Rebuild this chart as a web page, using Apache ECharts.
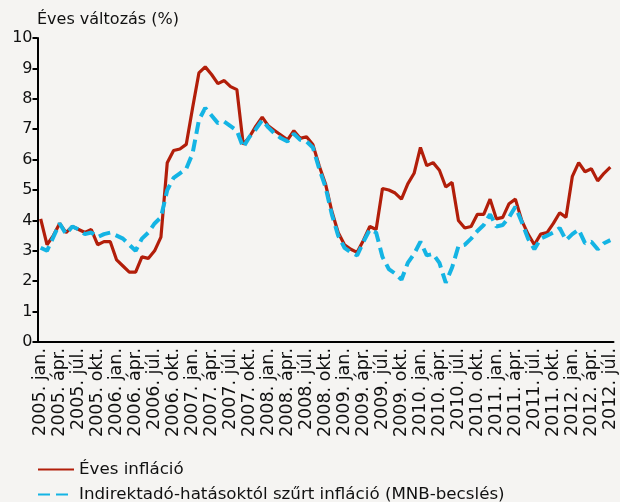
<!DOCTYPE html>
<html>
<head>
<meta charset="utf-8">
<script src="https://cdn.jsdelivr.net/npm/echarts@6.0.0/dist/echarts.min.js"></script>
<style>
html, body { margin: 0; padding: 0; background: #f5f4f2; }
#chart { width: 620px; height: 502px; }
</style>
</head>
<body>
<div id="chart"></div>
<script>
// havi adatok 2005. jan. - 2012. júl.
var years = [2005, 2006, 2007, 2008, 2009, 2010, 2011, 2012];
var monthNames = ['jan.', 'febr.', 'márc.', 'ápr.', 'máj.', 'jún.', 'júl.', 'aug.', 'szept.', 'okt.', 'nov.', 'dec.'];
var lastMonth = 7; // 2012. júl.

var evesInflacio = [
    4.05, 3.2, 3.5, 3.9, 3.6, 3.8, 3.7, 3.6, 3.7, 3.2, 3.3, 3.3,
    2.7, 2.5, 2.3, 2.3, 2.8, 2.75, 3.0, 3.45, 5.9, 6.3, 6.35, 6.5,
    7.7, 8.85, 9.05, 8.8, 8.5, 8.6, 8.4, 8.3, 6.5, 6.75, 7.1, 7.4,
    7.1, 6.95, 6.8, 6.65, 6.95, 6.7, 6.75, 6.5, 5.8, 5.2, 4.3, 3.6,
    3.2, 3.05, 2.95, 3.35, 3.8, 3.7, 5.05, 5.0, 4.9, 4.7, 5.2, 5.55,
    6.4, 5.8, 5.9, 5.65, 5.1, 5.25, 4.0, 3.75, 3.8, 4.2, 4.2, 4.7,
    4.05, 4.1, 4.55, 4.7, 4.0, 3.55, 3.2, 3.55, 3.6, 3.9, 4.25, 4.1,
    5.45, 5.9, 5.6, 5.7, 5.3, 5.55, 5.75
];

var szurtInflacio = [
    3.1, 3.0, 3.45, 3.9, 3.55, 3.8, 3.7, 3.55, 3.6, 3.45, 3.55, 3.6,
    3.5, 3.4, 3.2, 3.0, 3.4, 3.6, 3.9, 4.1, 5.0, 5.4, 5.55, 5.7,
    6.2, 7.3, 7.7, 7.45, 7.2, 7.25, 7.1, 6.95, 6.4, 6.75, 7.0, 7.3,
    7.05, 6.85, 6.7, 6.6, 6.85, 6.65, 6.6, 6.4, 5.7, 5.1, 4.2, 3.5,
    3.1, 2.95, 2.85, 3.3, 3.7, 3.6, 2.8, 2.4, 2.25, 2.05, 2.6, 2.9,
    3.3, 2.85, 2.9, 2.6, 1.95, 2.45, 3.15, 3.2, 3.4, 3.65, 3.85, 4.2,
    3.8, 3.85, 4.1, 4.45, 3.95, 3.4, 3.05, 3.4, 3.5, 3.6, 3.75, 3.35,
    3.55, 3.7, 3.25, 3.3, 3.05, 3.25, 3.35
];

var categories = [];
years.forEach(function (y) {
    monthNames.forEach(function (m, i) {
        if (y < 2012 || i < lastMonth) {
            categories.push(y + '. ' + m);
        }
    });
});

var font = 'DejaVu Sans';

var option = {
    backgroundColor: '#f5f4f2',
    animation: false,
    title: {
        text: 'Éves változás (%)',
        left: 32,
        top: 7,
        textStyle: { fontFamily: font, fontSize: 16, fontWeight: 'normal', color: '#111' }
    },
    legend: {
        orient: 'vertical',
        left: 32,
        top: 456,
        height: 60,
        itemWidth: 36,
        itemHeight: 14,
        itemGap: 8,
        itemStyle: { opacity: 0 },
        textStyle: { fontFamily: font, fontSize: 16.7, color: '#111' },
        data: ['Éves infláció', 'Indirektadó-hatásoktól szűrt infláció (MNB-becslés)']
    },
    grid: {
        left: 37.5,
        right: 6.5,
        top: 38,
        bottom: 160
    },
    xAxis: {
        type: 'category',
        boundaryGap: true,
        data: categories,
        axisLine: { lineStyle: { color: '#000', width: 2 } },
        axisTick: { interval: 2, length: 6, lineStyle: { color: '#000', width: 2 } },
        axisLabel: {
            interval: 2,
            rotate: 90,
            margin: 6,
            fontFamily: font,
            fontSize: 17.5,
            color: '#111'
        }
    },
    yAxis: {
        type: 'value',
        min: 0,
        max: 10,
        interval: 1,
        splitLine: { show: false },
        axisLine: { show: true, lineStyle: { color: '#000', width: 2 } },
        axisTick: { show: true, length: 5, lineStyle: { color: '#000', width: 2 } },
        axisLabel: { fontFamily: font, fontSize: 16, color: '#111', margin: 5 }
    },
    series: [{
        name: 'Éves infláció',
        type: 'line',
        symbol: 'none',
        data: evesInflacio,
        lineStyle: { color: '#b21e0a', width: 3.2 },
        itemStyle: { color: '#b21e0a' }
    }, {
        name: 'Indirektadó-hatásoktól szűrt infláció (MNB-becslés)',
        type: 'line',
        symbol: 'none',
        data: szurtInflacio,
        lineStyle: { color: '#14b4e4', width: 4, type: [12, 6] },
        itemStyle: { color: '#14b4e4' }
    }]
};

var myChart = echarts.init(document.getElementById('chart'));
myChart.setOption(option);
</script>
</body>
</html>
